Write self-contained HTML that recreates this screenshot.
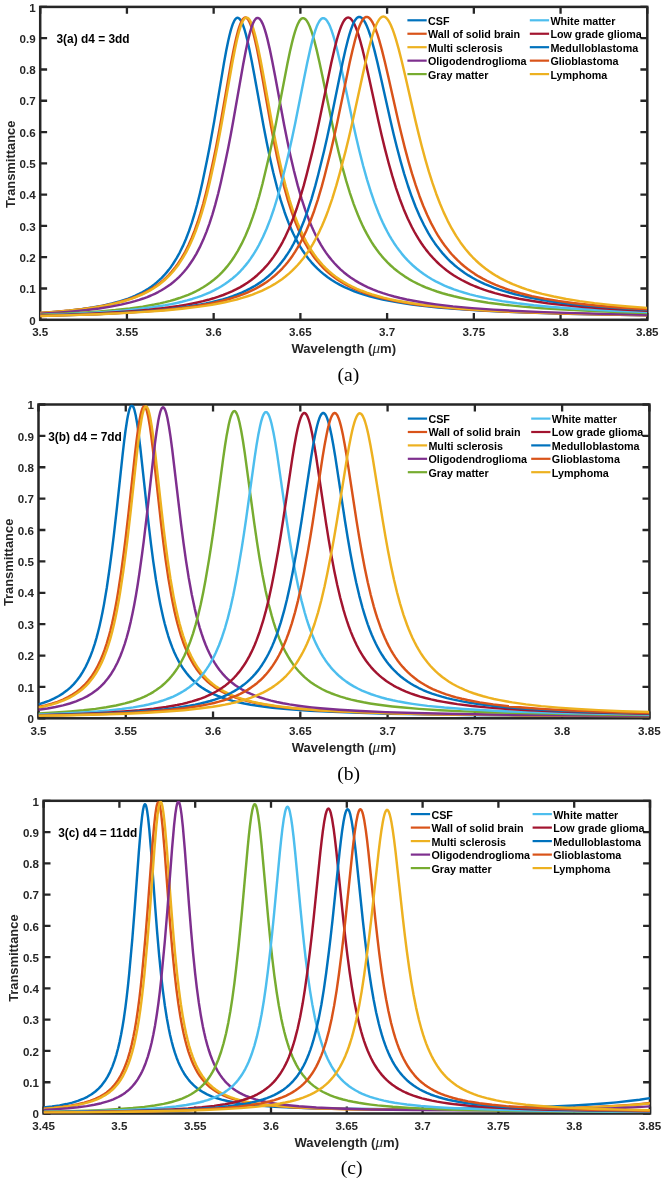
<!DOCTYPE html>
<html><head><meta charset="utf-8"><title>Transmittance spectra</title><style>
html,body{margin:0;padding:0;background:#fff;}
body{width:665px;height:1181px;overflow:hidden;}
svg{display:block;will-change:transform;}
text{font-family:"Liberation Sans",sans-serif;}
.tk{font-size:11.6px;font-weight:bold;fill:#262626;}
.al{font-size:12.9px;font-weight:bold;fill:#262626;}
.mu{font-family:"Liberation Serif",serif;font-style:italic;font-weight:normal;font-size:15px;}
.an{font-size:11.9px;font-weight:bold;fill:#000;}
.lg{font-size:10.75px;font-weight:bold;fill:#000;}
.sl{font-family:"Liberation Serif",serif;font-size:19.6px;fill:#000;}
</style></head>
<body>
<svg width="665" height="1181" viewBox="0 0 665 1181">
<defs>
<clipPath id="c0"><rect x="40.2" y="6.9" width="607.1" height="312.9"/></clipPath>
<clipPath id="c1"><rect x="38.5" y="404.5" width="610.9" height="313.8"/></clipPath>
<clipPath id="c2"><rect x="43.6" y="800.8" width="606.4" height="312.7"/></clipPath>
</defs>
<rect width="665" height="1181" fill="#fff"/>
<rect x="40.2" y="6.9" width="607.1" height="312.9" fill="none" stroke="#262626" stroke-width="2.5"/>
<text x="40.20" y="336.10" text-anchor="middle" class="tk">3.5</text>
<text x="126.93" y="336.10" text-anchor="middle" class="tk">3.55</text>
<text x="213.66" y="336.10" text-anchor="middle" class="tk">3.6</text>
<text x="300.39" y="336.10" text-anchor="middle" class="tk">3.65</text>
<text x="387.11" y="336.10" text-anchor="middle" class="tk">3.7</text>
<text x="473.84" y="336.10" text-anchor="middle" class="tk">3.75</text>
<text x="560.57" y="336.10" text-anchor="middle" class="tk">3.8</text>
<text x="647.30" y="336.10" text-anchor="middle" class="tk">3.85</text>
<text x="35.60" y="324.50" text-anchor="end" class="tk">0</text>
<text x="35.60" y="293.21" text-anchor="end" class="tk">0.1</text>
<text x="35.60" y="261.92" text-anchor="end" class="tk">0.2</text>
<text x="35.60" y="230.63" text-anchor="end" class="tk">0.3</text>
<text x="35.60" y="199.34" text-anchor="end" class="tk">0.4</text>
<text x="35.60" y="168.05" text-anchor="end" class="tk">0.5</text>
<text x="35.60" y="136.76" text-anchor="end" class="tk">0.6</text>
<text x="35.60" y="105.47" text-anchor="end" class="tk">0.7</text>
<text x="35.60" y="74.18" text-anchor="end" class="tk">0.8</text>
<text x="35.60" y="42.89" text-anchor="end" class="tk">0.9</text>
<text x="35.60" y="11.60" text-anchor="end" class="tk">1</text>
<path d="M40.20 319.80V312.90M40.20 6.90V13.80M126.93 319.80V312.90M126.93 6.90V13.80M213.66 319.80V312.90M213.66 6.90V13.80M300.39 319.80V312.90M300.39 6.90V13.80M387.11 319.80V312.90M387.11 6.90V13.80M473.84 319.80V312.90M473.84 6.90V13.80M560.57 319.80V312.90M560.57 6.90V13.80M647.30 319.80V312.90M647.30 6.90V13.80M40.20 319.80H47.10M647.30 319.80H640.40M40.20 288.51H47.10M647.30 288.51H640.40M40.20 257.22H47.10M647.30 257.22H640.40M40.20 225.93H47.10M647.30 225.93H640.40M40.20 194.64H47.10M647.30 194.64H640.40M40.20 163.35H47.10M647.30 163.35H640.40M40.20 132.06H47.10M647.30 132.06H640.40M40.20 100.77H47.10M647.30 100.77H640.40M40.20 69.48H47.10M647.30 69.48H640.40M40.20 38.19H47.10M647.30 38.19H640.40M40.20 6.90H47.10M647.30 6.90H640.40" stroke="#262626" stroke-width="2.3" fill="none"/>
<g clip-path="url(#c0)" fill="none" stroke-width="2.45" stroke-linejoin="round">
<path stroke="#0072BD" d="M40.20 313.05l15 -1.13l13.75 -1.31l12.25 -1.46l11.25 -1.66l10.25 -1.88l9.25 -2.09l8.5 -2.35l7.75 -2.6l3.75 -1.46l3.5 -1.5l3.5 -1.65l3.25 -1.68l3 -1.7l3 -1.86l3 -2.04l2.75 -2.04l2.75 -2.23l2.5 -2.21l2.5 -2.4l2.5 -2.61l2.25 -2.55l2.25 -2.76l2.25 -2.99l2 -2.87l3.5 -5.57l3.25 -5.88l3.25 -6.66l3 -6.94l3 -7.81l2.75 -8.02l2.75 -8.93l2.75 -9.93l2.75 -11.01l2.5 -11l4.5 -21.65l2.5 -12.76l4.75 -26.49l9.75 -58.25l2.25 -12.29l2 -9.84l1.25 -5.47l1.25 -4.86l1.25 -4.17l1 -2.79l1.25 -2.76l1 -1.6l.75 -.83l.5 -.38l.5 -.23l.5 -.09l.5 .05l.5 .17l.5 .3l.75 .68l1.25 1.74l1.25 2.47l1.25 3.17l1.25 3.82l1.25 4.42l1.25 4.95l2.25 10.08l2.25 11.24l2.5 13.4l9.25 51.25l3.25 16.78l3 14.44l3.5 15.43l3.75 14.83l3.75 13.13l3.75 11.56l2 5.58l2.25 5.82l2.25 5.38l2.25 4.97l2.25 4.59l2.5 4.7l2.5 4.31l2.5 3.96l2.75 4l2.75 3.65l3 3.64l3 3.31l3 3.03l3.25 2.99l3.5 2.93l3.5 2.66l4 2.74l4 2.47l4.25 2.37l4.5 2.26l4.75 2.14l5 2.02l5 1.81l5.5 1.78l5.75 1.66l6 1.55l6.25 1.44l6.75 1.38l7 1.27l7.5 1.21l8 1.14l8.25 1.04l18 1.89l20 1.63l22.5 1.42l25.5 1.24l28.75 1.07l32.75 .93l37.25 .8l42.25 .68"/>
<path stroke="#D95319" d="M40.20 312.94l15.75 -1.16l14 -1.3l12.75 -1.48l11.5 -1.65l10.5 -1.86l9.75 -2.13l8.75 -2.34l8 -2.6l3.75 -1.4l3.75 -1.54l3.5 -1.58l3.5 -1.74l3.25 -1.77l3 -1.79l3 -1.95l3 -2.13l2.75 -2.13l2.75 -2.32l2.75 -2.54l2.5 -2.51l2.5 -2.73l2.25 -2.66l2.25 -2.87l2.25 -3.11l3.75 -5.76l3.5 -6.13l3.25 -6.45l3.25 -7.28l3 -7.55l3 -8.45l2.75 -8.63l2.75 -9.55l2.75 -10.54l2.75 -11.58l4.5 -20.7l2.75 -13.4l2.5 -13l2.5 -13.68l10 -57.17l2.5 -13.09l2 -9.44l1.25 -5.29l1.25 -4.74l1.25 -4.12l1.25 -3.44l1.25 -2.71l1.25 -1.94l.75 -.78l.5 -.36l.5 -.23l.5 -.09l.5 .04l.5 .17l.5 .29l.75 .68l1 1.35l1.25 2.37l1.25 3.09l1.25 3.77l1.25 4.4l1.25 4.96l2.25 10.14l2.25 11.37l2.5 13.59l9.25 52.04l3.25 17.01l3 14.61l3.5 15.59l3.5 14.01l3.75 13.32l3.75 11.7l2 5.63l2.25 5.88l2 4.84l2.25 5.05l2.25 4.66l2.5 4.76l2.5 4.37l2.5 4.01l2.5 3.68l2.75 3.72l2.75 3.4l3 3.39l3 3.09l3.25 3.05l3.25 2.78l3.5 2.72l3.75 2.64l4 2.54l4.25 2.43l4.5 2.31l4.75 2.18l4.75 1.96l5 1.85l5.25 1.74l5.5 1.63l6 1.59l6.25 1.47l6.5 1.36l7 1.3l7.25 1.2l7.75 1.14l8.25 1.07l17.5 1.88l19.75 1.65l22.25 1.44l25 1.25l28.25 1.08l32 .93l36.25 .8l41.5 .69"/>
<path stroke="#EDB120" d="M40.20 313.02l15.75 -1.14l14.25 -1.3l12.75 -1.45l11.75 -1.66l10.5 -1.84l9.75 -2.1l8.75 -2.3l4.25 -1.3l4 -1.34l3.75 -1.39l3.75 -1.53l3.5 -1.56l3.5 -1.72l3.25 -1.75l3.25 -1.92l3 -1.94l3 -2.12l2.75 -2.12l2.75 -2.31l2.75 -2.52l2.5 -2.5l2.5 -2.71l2.25 -2.64l2.25 -2.85l2.25 -3.09l3.75 -5.72l3.5 -6.09l3.25 -6.4l3.25 -7.22l3 -7.5l3 -8.39l3 -9.39l2.75 -9.56l2.75 -10.56l2.75 -11.6l4.5 -20.72l2.75 -13.42l2.5 -13.01l2.5 -13.69l10 -57.16l2.5 -13.07l2 -9.41l1.25 -5.27l1.25 -4.71l1.25 -4.09l1.25 -3.41l1.25 -2.68l1.25 -1.91l.75 -.76l.5 -.34l.5 -.21l.5 -.08l.5 .05l.5 .18l.5 .3l.75 .68l1 1.34l1.25 2.34l1.25 3.05l1.25 3.71l1.25 4.33l1.25 4.88l2.25 9.97l2.5 12.48l2.5 13.46l9.25 51.42l3.25 16.82l3 14.46l3.5 15.45l3.5 13.9l3.75 13.24l3.75 11.65l2 5.62l2.25 5.87l2 4.84l2.25 5.05l2.25 4.67l2.5 4.77l2.5 4.38l2.5 4.02l2.75 4.05l2.75 3.71l2.75 3.39l3 3.38l3 3.09l3.25 3.05l3.25 2.78l3.5 2.72l3.75 2.64l4 2.55l4.25 2.44l4.5 2.32l4.75 2.19l4.75 1.97l5 1.86l5.25 1.75l5.5 1.64l6 1.6l6.25 1.49l6.5 1.38l7 1.32l7.25 1.21l7.75 1.15l8 1.05l17.5 1.91l19.5 1.66l22 1.46l25 1.27l28 1.09l31.75 .95l36 .82l41.25 .71"/>
<path stroke="#7E2F8E" d="M40.20 313.68l17 -1.06l15.5 -1.23l14 -1.4l12.5 -1.56l11.5 -1.79l10.25 -1.97l9.5 -2.25l4.5 -1.24l4.25 -1.3l4 -1.35l4 -1.49l3.75 -1.54l3.75 -1.7l3.5 -1.75l3.25 -1.78l3.25 -1.96l3 -1.98l3 -2.16l2.75 -2.17l2.75 -2.36l2.75 -2.58l2.5 -2.55l2.5 -2.77l2.5 -3.02l2.25 -2.95l3.75 -5.46l3.75 -6.24l3.5 -6.65l3.5 -7.57l3.25 -7.98l3 -8.28l3 -9.26l2.75 -9.44l3 -11.42l2.75 -11.55l4.5 -20.66l2.75 -13.37l2.5 -12.96l2.5 -13.64l10 -57.05l2.5 -13.08l2 -9.44l1.5 -6.29l1.25 -4.63l1.25 -4l1.25 -3.32l1.25 -2.58l1.25 -1.81l.75 -.7l.5 -.3l.5 -.17l.5 -.04l1 .28l.5 .32l.75 .69l1.25 1.73l1.25 2.42l1.25 3.08l1.25 3.7l1.25 4.26l1.25 4.78l2.25 9.71l2.5 12.1l2.75 14.36l9.25 49.87l3.25 16.36l3 14.11l3.5 15.14l3.75 14.6l3.75 12.98l3.75 11.48l2 5.55l2.25 5.81l2.25 5.38l2.25 4.98l2.25 4.61l2.25 4.28l2.5 4.39l2.5 4.04l2.5 3.72l2.75 3.76l2.75 3.45l3 3.45l3 3.15l3 2.89l3.25 2.86l3.5 2.81l3.75 2.73l4 2.63l4.25 2.52l4.25 2.27l4.5 2.17l4.75 2.06l5 1.95l5.25 1.84l5.5 1.73l5.75 1.62l6 1.51l6.5 1.46l6.75 1.35l7 1.25l7.5 1.19l8 1.12l17 2l19 1.75l21.25 1.52l23.75 1.32l26.75 1.15l30.25 1l34.25 .87l39 .75"/>
<path stroke="#77AC30" d="M40.20 314.78l22 -.94l19.75 -1.09l17.75 -1.26l15.75 -1.42l14.25 -1.62l13 -1.85l11.75 -2.09l5.5 -1.15l5.25 -1.22l5 -1.3l4.75 -1.37l4.5 -1.43l4.5 -1.59l4.25 -1.66l4 -1.73l3.75 -1.79l3.75 -1.97l3.5 -2.02l3.5 -2.22l3.25 -2.26l3.25 -2.48l3 -2.51l3 -2.74l2.75 -2.74l2.75 -2.98l2.5 -2.94l2.25 -2.86l2.25 -3.07l2 -2.93l4 -6.47l4 -7.41l3.75 -7.93l3.75 -9.02l3.5 -9.53l3.25 -9.92l3.25 -11.04l3.25 -12.25l5.25 -21.91l2.75 -12.13l2.75 -12.92l3 -14.89l11.25 -58.59l2.5 -11.93l2.25 -9.71l1.5 -5.77l1.25 -4.3l1.5 -4.48l1.25 -3.11l1.5 -2.92l1.25 -1.73l.75 -.72l.5 -.34l.75 -.31l.5 -.07l.5 .04l.75 .24l.75 .45l.75 .66l1.25 1.56l1.5 2.61l1.25 2.76l1.5 3.98l1.5 4.63l1.5 5.23l2.5 9.83l2.75 12.06l3 14.14l9.75 47.31l3.25 14.84l3.25 13.97l3.75 14.9l3.75 13.54l3.75 12.21l3.75 10.95l2 5.36l2.25 5.65l2 4.7l2.25 4.96l2.25 4.63l2.25 4.32l2.25 4.03l2.5 4.16l2.5 3.86l2.5 3.59l2.75 3.65l2.75 3.37l2.75 3.12l3 3.14l3 2.9l3 2.68l3.5 2.87l3.75 2.81l4 2.73l4 2.48l4.25 2.4l4.25 2.18l4.5 2.1l4.75 2.01l5 1.92l5.25 1.82l5.5 1.72l5.5 1.56l6 1.53l6.25 1.44l6.5 1.35l7 1.3l7 1.17l7.5 1.13l16.25 2.07l18 1.83l19.75 1.6l22 1.42l24.75 1.26l27.5 1.1l30.75 .96"/>
<path stroke="#4DBEEE" d="M40.20 315.14l24.25 -.9l21.5 -1.03l19.5 -1.21l17.25 -1.36l15.75 -1.58l14 -1.78l12.75 -2.03l6 -1.13l5.5 -1.15l5.25 -1.22l5.25 -1.36l5 -1.44l4.75 -1.52l4.5 -1.59l4.25 -1.66l4.25 -1.84l4 -1.91l3.75 -1.98l3.75 -2.18l3.5 -2.24l3.5 -2.46l3.25 -2.5l3 -2.53l3 -2.75l3 -3.01l2.5 -2.72l2.5 -2.94l2.5 -3.18l2.25 -3.08l2.25 -3.31l2 -3.15l2.25 -3.79l2 -3.61l4 -7.98l3.75 -8.51l3.75 -9.63l3.5 -10.12l3.5 -11.33l3.5 -12.62l5.5 -22.08l2.75 -11.65l3 -13.55l3 -14.33l9.25 -46.74l2.75 -13.49l2.75 -12.58l2.25 -9.25l1.5 -5.5l1.5 -4.87l1.5 -4.16l1.25 -2.88l1.5 -2.7l1.25 -1.58l.75 -.65l.5 -.31l.75 -.27l.5 -.05l.5 .05l.75 .24l.75 .44l.75 .64l1.25 1.51l1.5 2.52l1.5 3.26l1.5 3.94l1.5 4.56l1.5 5.13l2.5 9.61l3 12.88l3 13.84l9.75 46.25l3.25 14.54l3.25 13.71l3.75 14.67l3.75 13.38l3.75 12.1l3.75 10.88l4 10.37l2 4.74l2.25 5l2.25 4.67l2.25 4.37l2.25 4.08l2.25 3.82l2.25 3.57l2.5 3.7l2.5 3.44l2.75 3.51l2.75 3.25l2.75 3.02l2.75 2.8l3 2.83l3.5 3.04l3.5 2.78l3.75 2.73l3.75 2.49l4 2.43l4.25 2.35l4.25 2.14l4.5 2.07l4.75 1.99l4.75 1.81l5.25 1.81l5.25 1.64l5.5 1.56l6 1.54l6 1.39l6.5 1.36l6.75 1.28l7 1.19l15 2.18l16.5 1.94l18.25 1.72l20.25 1.53l22.25 1.34l25 1.2l27.75 1.05"/>
<path stroke="#A2142F" d="M40.20 315.50l27.25 -.86l24 -.99l21.5 -1.15l19 -1.31l17.25 -1.52l15.5 -1.73l14 -1.97l6.5 -1.09l6.25 -1.17l6 -1.26l5.5 -1.28l5.25 -1.36l5.25 -1.51l5 -1.6l4.75 -1.69l4.5 -1.78l4.25 -1.86l4 -1.93l4 -2.12l3.75 -2.19l3.75 -2.41l3.5 -2.48l3.25 -2.52l3.25 -2.75l3.25 -3.01l2.75 -2.78l2.75 -3.01l2.5 -2.95l2.5 -3.18l2.5 -3.43l2.25 -3.32l2.25 -3.56l2.25 -3.82l2.25 -4.1l2 -3.9l4 -8.58l4 -9.75l3.75 -10.32l3.75 -11.58l3.5 -12.04l3 -11.3l6 -23.96l3 -13.01l3.25 -14.91l12.25 -59.09l3 -13.22l2.5 -9.87l1.5 -5.26l1.5 -4.68l1.5 -4.04l1.5 -3.33l1.5 -2.57l1.25 -1.53l.75 -.64l.75 -.43l.5 -.17l.75 -.08l.5 .06l.75 .25l.75 .44l.75 .63l1.5 1.83l1.5 2.55l1.5 3.23l1.5 3.87l1.5 4.46l1.75 5.87l2.5 9.43l3 12.57l3 13.46l9.75 45l3.25 14.21l3.25 13.45l3.75 14.44l3.5 12.38l3.75 12.1l3.75 10.93l4 10.46l4 9.32l4.25 8.78l2.25 4.23l2.25 3.96l2.25 3.71l2.5 3.85l2.25 3.24l2.5 3.37l2.5 3.14l2.5 2.93l2.75 3.01l2.75 2.8l3.25 3.06l3.25 2.82l3.5 2.79l3.75 2.74l3.75 2.51l3.75 2.31l4 2.26l4.25 2.19l4.5 2.12l4.5 1.94l4.75 1.87l4.75 1.7l5.25 1.72l5.25 1.56l5.75 1.55l5.75 1.41l6 1.34l6.5 1.31l13.5 2.35l15 2.13l16.25 1.88l17.75 1.67l19.75 1.5l21.75 1.33l24.25 1.19"/>
<path stroke="#0072BD" d="M40.20 315.89l28.75 -.8l25.5 -.93l22.75 -1.09l20.25 -1.26l18.25 -1.46l16.25 -1.66l14.5 -1.88l6.75 -1.04l6.5 -1.13l6.25 -1.21l5.75 -1.25l5.75 -1.4l5.25 -1.42l5 -1.51l5 -1.68l4.5 -1.68l4.5 -1.86l4.25 -1.94l4 -2.02l4 -2.23l3.75 -2.31l3.5 -2.37l3.5 -2.6l3.25 -2.65l3.25 -2.91l2.75 -2.68l2.75 -2.9l2.75 -3.15l2.5 -3.1l2.5 -3.34l2.5 -3.61l2.25 -3.5l2.25 -3.76l2.25 -4.04l2 -3.84l2.25 -4.62l2 -4.4l4 -9.7l3.75 -10.29l3.75 -11.58l3.75 -12.96l3 -11.42l5.75 -23.25l3.25 -14.27l3.25 -15.14l9.5 -46.83l2.75 -13.16l2.75 -12.29l2.5 -10.04l1.5 -5.35l1.5 -4.75l1.5 -4.08l1.25 -2.84l1.5 -2.7l1.25 -1.62l.75 -.69l.75 -.47l.75 -.26l.5 -.05l.75 .09l.75 .27l.75 .45l.75 .63l1.5 1.79l1.5 2.47l1.5 3.12l1.75 4.4l1.5 4.37l1.75 5.72l2.75 10.13l3 12.27l3 13.1l10 44.86l3.25 13.83l3.25 13.12l3.75 14.13l3.5 12.16l3.75 11.92l3.75 10.81l4 10.38l4 9.29l4.25 8.78l4.25 7.79l2.25 3.76l2.25 3.53l2.25 3.32l2.5 3.45l2.5 3.23l2.5 3.02l2.5 2.82l2.75 2.9l3.25 3.18l3.25 2.93l3.25 2.7l3.5 2.69l3.75 2.65l3.75 2.43l4 2.38l4 2.19l4.25 2.13l4.25 1.95l4.5 1.9l4.75 1.83l5 1.76l5 1.61l5.5 1.62l5.5 1.47l5.75 1.4l6 1.33l13 2.5l14 2.22l15.25 1.98l16.75 1.78l18.5 1.6l20.25 1.42l22.5 1.28"/>
<path stroke="#D95319" d="M40.20 315.94l29.5 -.79l26.25 -.93l23.25 -1.08l20.75 -1.25l18.5 -1.43l16.75 -1.66l15 -1.89l7 -1.05l6.5 -1.1l6.25 -1.18l6 -1.27l5.75 -1.36l5.5 -1.45l5.25 -1.54l5 -1.63l4.75 -1.72l4.5 -1.81l4.25 -1.89l4.25 -2.09l4 -2.18l3.75 -2.25l3.75 -2.48l3.5 -2.54l3.5 -2.79l3.25 -2.85l2.75 -2.62l2.75 -2.83l2.75 -3.07l2.5 -3.02l2.5 -3.25l2.5 -3.51l2.5 -3.79l2.25 -3.67l2.25 -3.94l2.25 -4.22l2.25 -4.53l2 -4.31l4 -9.49l4 -10.76l3.75 -11.36l3.75 -12.7l3 -11.18l6 -23.83l3.25 -14.01l3.25 -14.86l12.5 -60.2l2.75 -12.14l2.5 -9.96l1.5 -5.34l1.5 -4.77l1.5 -4.13l1.5 -3.44l1.5 -2.69l1.25 -1.63l.75 -.71l.75 -.5l.75 -.29l.5 -.08l.75 .05l.75 .23l.75 .41l.75 .58l1.5 1.69l1.5 2.36l1.5 3l1.75 4.25l1.75 4.99l1.75 5.65l2.75 10l3 12.11l3.25 14.04l10 44.39l3.25 13.69l3.25 12.99l3.75 14l3.5 12.06l3.75 11.83l3.75 10.75l3.75 9.72l4 9.32l4 8.34l4.25 7.9l2.25 3.82l2.25 3.58l2.25 3.37l2.5 3.51l4.75 6.05l2.5 2.89l2.75 2.97l3 3.01l3.25 3.02l3.25 2.79l3.5 2.77l3.5 2.55l3.75 2.52l3.75 2.32l4 2.27l4.25 2.22l4.25 2.03l4.5 1.97l4.5 1.81l4.75 1.75l5 1.69l5.25 1.62l5.25 1.48l5.75 1.48l5.75 1.35l12.5 2.55l13.5 2.27l14.75 2.05l16 1.83l17.75 1.66l19.5 1.48l21.25 1.31"/>
<path stroke="#EDB120" d="M40.20 315.92l31 -.8l27.5 -.93l24.5 -1.08l21.75 -1.25l19.5 -1.44l17.5 -1.65l15.75 -1.89l7.25 -1.04l7 -1.12l6.75 -1.22l6.25 -1.26l6 -1.35l5.75 -1.44l5.5 -1.54l5.25 -1.64l5 -1.73l4.75 -1.82l4.5 -1.91l4.5 -2.12l4.25 -2.21l4 -2.3l3.75 -2.37l3.75 -2.6l3.5 -2.66l3.5 -2.92l3 -2.73l3 -2.96l2.75 -2.93l2.75 -3.17l2.75 -3.43l2.5 -3.36l2.5 -3.62l2.5 -3.89l2.25 -3.76l2.25 -4.02l2.25 -4.3l2.25 -4.6l2.25 -4.92l2 -4.66l2.25 -5.59l2 -5.29l4 -11.56l4 -12.94l3.25 -11.58l6.25 -23.66l3.25 -13.35l3.5 -15.22l10.25 -47.22l3 -13.41l3 -12.5l2.5 -9.37l1.75 -5.82l1.5 -4.42l1.5 -3.84l1.5 -3.21l1.5 -2.53l1.5 -1.81l.75 -.63l.75 -.44l.75 -.25l.5 -.06l.75 .06l.75 .24l.75 .41l.75 .58l1.5 1.66l1.5 2.31l1.5 2.93l1.75 4.15l1.75 4.88l1.75 5.52l2.75 9.78l3.25 12.9l3.25 13.83l10 43.78l3.25 13.53l3.25 12.86l3.75 13.89l3.5 11.99l3.5 11.04l3.75 10.8l3.75 9.79l3.75 8.85l4 8.49l4 7.6l4.25 7.21l4.5 6.78l4.75 6.32l4.75 5.58l3 3.19l3 2.96l3 2.75l3.25 2.76l3.5 2.74l3.5 2.53l3.5 2.34l3.75 2.32l3.75 2.14l4 2.11l4.25 2.06l4.25 1.89l4.5 1.84l4.75 1.78l4.75 1.64l5 1.58l5.25 1.52l5.25 1.39l11.5 2.67l12.5 2.42l13.5 2.17l14.75 1.97l16 1.76l17.5 1.59l19.25 1.43"/>
</g>
<text x="343.75" y="353.10" text-anchor="middle" textLength="104.6" lengthAdjust="spacingAndGlyphs" class="al">Wavelength (<tspan class="mu">μ</tspan>m)</text>
<text transform="translate(14.80,164.35) rotate(-90)" text-anchor="middle" class="al">Transmittance</text>
<text x="56.50" y="43.30" class="an">3(a) d4 = 3dd</text>
<path d="M407.4 20.30H426.7" stroke="#0072BD" stroke-width="2.2"/>
<text x="428.0" y="24.70" class="lg">CSF</text>
<path d="M407.4 33.75H426.7" stroke="#D95319" stroke-width="2.2"/>
<text x="428.0" y="38.15" class="lg">Wall of solid brain</text>
<path d="M407.4 47.20H426.7" stroke="#EDB120" stroke-width="2.2"/>
<text x="428.0" y="51.60" class="lg">Multi sclerosis</text>
<path d="M407.4 60.65H426.7" stroke="#7E2F8E" stroke-width="2.2"/>
<text x="428.0" y="65.05" class="lg">Oligodendroglioma</text>
<path d="M407.4 74.10H426.7" stroke="#77AC30" stroke-width="2.2"/>
<text x="428.0" y="78.50" class="lg">Gray matter</text>
<path d="M529.8 20.30H549.1" stroke="#4DBEEE" stroke-width="2.2"/>
<text x="550.4" y="24.70" class="lg">White matter</text>
<path d="M529.8 33.75H549.1" stroke="#A2142F" stroke-width="2.2"/>
<text x="550.4" y="38.15" class="lg">Low grade glioma</text>
<path d="M529.8 47.20H549.1" stroke="#0072BD" stroke-width="2.2"/>
<text x="550.4" y="51.60" class="lg">Medulloblastoma</text>
<path d="M529.8 60.65H549.1" stroke="#D95319" stroke-width="2.2"/>
<text x="550.4" y="65.05" class="lg">Glioblastoma</text>
<path d="M529.8 74.10H549.1" stroke="#EDB120" stroke-width="2.2"/>
<text x="550.4" y="78.50" class="lg">Lymphoma</text>
<text x="337.50" y="380.60" class="sl">(a)</text>
<rect x="38.5" y="404.5" width="610.9" height="313.8" fill="none" stroke="#262626" stroke-width="2.5"/>
<text x="38.50" y="734.60" text-anchor="middle" class="tk">3.5</text>
<text x="125.77" y="734.60" text-anchor="middle" class="tk">3.55</text>
<text x="213.04" y="734.60" text-anchor="middle" class="tk">3.6</text>
<text x="300.31" y="734.60" text-anchor="middle" class="tk">3.65</text>
<text x="387.59" y="734.60" text-anchor="middle" class="tk">3.7</text>
<text x="474.86" y="734.60" text-anchor="middle" class="tk">3.75</text>
<text x="562.13" y="734.60" text-anchor="middle" class="tk">3.8</text>
<text x="649.40" y="734.60" text-anchor="middle" class="tk">3.85</text>
<text x="33.90" y="723.00" text-anchor="end" class="tk">0</text>
<text x="33.90" y="691.62" text-anchor="end" class="tk">0.1</text>
<text x="33.90" y="660.24" text-anchor="end" class="tk">0.2</text>
<text x="33.90" y="628.86" text-anchor="end" class="tk">0.3</text>
<text x="33.90" y="597.48" text-anchor="end" class="tk">0.4</text>
<text x="33.90" y="566.10" text-anchor="end" class="tk">0.5</text>
<text x="33.90" y="534.72" text-anchor="end" class="tk">0.6</text>
<text x="33.90" y="503.34" text-anchor="end" class="tk">0.7</text>
<text x="33.90" y="471.96" text-anchor="end" class="tk">0.8</text>
<text x="33.90" y="440.58" text-anchor="end" class="tk">0.9</text>
<text x="33.90" y="409.20" text-anchor="end" class="tk">1</text>
<path d="M38.50 718.30V711.40M38.50 404.50V411.40M125.77 718.30V711.40M125.77 404.50V411.40M213.04 718.30V711.40M213.04 404.50V411.40M300.31 718.30V711.40M300.31 404.50V411.40M387.59 718.30V711.40M387.59 404.50V411.40M474.86 718.30V711.40M474.86 404.50V411.40M562.13 718.30V711.40M562.13 404.50V411.40M649.40 718.30V711.40M649.40 404.50V411.40M38.50 718.30H45.40M649.40 718.30H642.50M38.50 686.92H45.40M649.40 686.92H642.50M38.50 655.54H45.40M649.40 655.54H642.50M38.50 624.16H45.40M649.40 624.16H642.50M38.50 592.78H45.40M649.40 592.78H642.50M38.50 561.40H45.40M649.40 561.40H642.50M38.50 530.02H45.40M649.40 530.02H642.50M38.50 498.64H45.40M649.40 498.64H642.50M38.50 467.26H45.40M649.40 467.26H642.50M38.50 435.88H45.40M649.40 435.88H642.50M38.50 404.50H45.40M649.40 404.50H642.50" stroke="#262626" stroke-width="2.3" fill="none"/>
<g clip-path="url(#c1)" fill="none" stroke-width="2.45" stroke-linejoin="round">
<path stroke="#0072BD" d="M38.50 704.34l5.75 -1.82l5.25 -1.99l4.75 -2.13l4.5 -2.39l4.25 -2.67l3.75 -2.76l3.5 -3l3.5 -3.5l3.25 -3.79l3 -4.06l2.75 -4.29l2.75 -4.94l2.5 -5.16l2.25 -5.28l2.25 -5.98l2.25 -6.79l1.75 -5.93l1.5 -5.58l1.5 -6.09l1.5 -6.65l1.5 -7.26l1.5 -7.92l2.75 -16.38l2.75 -19l2.5 -18.93l1.75 -14.21l3 -26.47l6 -56.04l1.5 -12.86l1.25 -9.71l1.75 -11.49l.75 -4l.75 -3.37l.75 -2.7l.75 -1.99l.75 -1.24l.5 -.41l.25 -.08l.5 .1l.75 .79l.75 1.54l.75 2.27l1.25 5.32l1.5 8.65l1.5 10.71l1.5 12.28l8.25 75.95l2.5 21.04l2.25 17.18l2.75 18.64l2.75 16.13l1.5 7.82l1.5 7.19l1.5 6.6l1.5 6.06l1.75 6.44l1.75 5.83l2 6l2 5.37l2 4.82l2.25 4.85l2.25 4.33l2.25 3.87l2.5 3.84l2.75 3.74l2.75 3.31l3 3.2l3 2.83l3.25 2.71l3.5 2.57l3.75 2.41l4 2.25l4 1.97l4.25 1.84l4.75 1.79l5 1.64l5.25 1.5l5.5 1.36l6 1.29l6.5 1.21l6.75 1.08l7.25 1l7.75 .92l8.25 .84l9 .79l20 1.39l23 1.16l26.5 .97l31 .81l36.25 .68l42.5 .57l50.25 .47l59.5 .39l70.5 .33"/>
<path stroke="#D95319" d="M38.50 707.04l7 -1.6l6.25 -1.73l5.75 -1.92l5.5 -2.21l5 -2.41l4.5 -2.58l4.25 -2.88l4 -3.21l3.75 -3.55l3.5 -3.9l3.25 -4.24l3 -4.55l2.75 -4.82l2.75 -5.56l2.5 -5.81l2.5 -6.67l2 -6.05l1.75 -5.88l1.75 -6.51l1.75 -7.19l1.75 -7.96l1.5 -7.48l1.5 -8.15l1.5 -8.86l3 -19.98l2.5 -18.48l1.75 -13.79l3 -25.73l6.5 -59.57l1.5 -12.62l1.25 -9.54l1.75 -11.32l1 -5.15l.75 -3.14l.75 -2.48l.75 -1.78l.75 -1.06l.5 -.3l.25 -.02l.5 .2l.75 .91l.75 1.64l.75 2.34l1.25 5.37l1.5 8.62l1.5 10.59l1.5 12.09l8.25 74.68l2.5 20.75l2.25 16.99l2.75 18.48l3 17.39l1.5 7.69l1.5 7.07l1.5 6.5l1.5 5.97l1.75 6.36l1.75 5.77l2 5.94l2 5.33l2 4.79l2.25 4.83l2.25 4.31l2.25 3.86l2.5 3.83l2.5 3.42l2.75 3.35l3 3.24l3 2.86l3.25 2.75l3.5 2.6l3.75 2.45l4 2.29l4 2l4.25 1.87l4.5 1.73l4.75 1.6l5.25 1.54l5.5 1.4l6 1.33l6.25 1.2l6.75 1.12l7.25 1.04l7.5 .92l8.25 .88l8.75 .8l19.5 1.41l22.25 1.18l26 1l30 .83l35.25 .7l41.25 .59l48.5 .49l57.5 .41l68 .34"/>
<path stroke="#EDB120" d="M38.50 707.60l7.25 -1.55l6.5 -1.69l6 -1.89l5.5 -2.09l5 -2.28l4.75 -2.59l4.5 -2.93l4 -3.09l3.75 -3.41l3.5 -3.74l3.25 -4.07l3.25 -4.76l3 -5.14l2.75 -5.47l2.5 -5.73l2.5 -6.57l2 -5.96l1.75 -5.81l1.75 -6.43l1.75 -7.11l1.75 -7.87l1.5 -7.41l1.75 -9.49l1.5 -8.91l3 -20.14l2.5 -18.65l1.75 -13.93l3 -26.01l6.25 -57.88l1.5 -12.82l1.5 -11.54l1.75 -11.19l.75 -3.87l.75 -3.24l.75 -2.57l.75 -1.86l.75 -1.13l.5 -.34l.25 -.04l.5 .16l.75 .85l.75 1.56l.75 2.25l.75 2.92l.75 3.54l1.5 8.76l1.75 12.58l1.75 14.43l6 54.42l2.5 21.7l2 16.14l2 14.88l2.75 18.32l3 17.26l1.5 7.64l1.5 7.04l1.5 6.47l1.5 5.95l1.75 6.34l1.75 5.76l2 5.94l2 5.33l2 4.8l2.25 4.84l2.25 4.32l2.25 3.87l2.5 3.85l2.5 3.43l2.75 3.37l3 3.25l3 2.88l3.25 2.76l3.5 2.62l3.75 2.47l4 2.3l4 2.02l4.25 1.88l4.5 1.75l4.75 1.62l5.25 1.56l5.5 1.42l6 1.34l6.25 1.21l6.75 1.13l7.25 1.05l7.5 .93l8 .86l8.75 .81l19.5 1.43l22.25 1.2l25.75 1.01l30 .85l35 .71l41 .59l48.25 .5l57 .41l67.75 .34"/>
<path stroke="#7E2F8E" d="M38.50 709.83l9 -1.33l8 -1.47l7.5 -1.69l6.75 -1.87l6.25 -2.12l5.75 -2.37l5.25 -2.62l4.75 -2.84l4.5 -3.22l2.25 -1.85l2 -1.79l2 -1.96l2 -2.14l3.5 -4.24l3.25 -4.61l3.25 -5.4l3 -5.84l2.75 -6.23l2.25 -5.82l2.25 -6.59l2 -6.59l2 -7.37l2 -8.26l1.75 -8.03l1.75 -8.86l1.75 -9.75l1.75 -10.71l1.75 -11.71l2.5 -18.02l1.75 -13.39l3.25 -27.18l6.5 -58.31l1.5 -12.43l1.5 -11.23l1.75 -10.98l1 -5.01l.75 -3.06l.75 -2.43l.75 -1.76l.75 -1.06l.5 -.32l.25 -.04l.25 .04l.5 .29l.75 .96l.75 1.59l.75 2.2l.75 2.79l.75 3.34l1.5 8.18l1.5 9.88l1.75 13.16l8.75 73.82l2.5 19.38l2.5 17.67l2.75 17.34l3 16.49l3 14.16l1.5 6.29l1.75 6.74l1.75 6.15l1.75 5.61l2 5.82l2 5.25l2 4.75l2.25 4.81l2.25 4.32l2.5 4.29l2.5 3.84l2.5 3.44l2.75 3.39l3 3.29l3.25 3.15l3.25 2.79l3.5 2.66l3.5 2.35l4 2.37l4 2.09l4.25 1.95l4.5 1.82l4.75 1.69l5.25 1.63l5.5 1.49l5.75 1.36l6.25 1.28l6.5 1.16l7 1.09l7.25 .98l8 .93l8.5 .86l19 1.53l21.5 1.28l24.75 1.08l28.75 .92l33.5 .77l39 .65l45.5 .54l53.75 .46l63.25 .38"/>
<path stroke="#77AC30" d="M38.50 713.51l16.75 -.92l15 -1.07l13.25 -1.21l12 -1.4l10.75 -1.59l9.75 -1.82l9 -2.11l4 -1.11l4 -1.23l3.75 -1.29l3.75 -1.44l3.5 -1.5l3.25 -1.54l3.25 -1.71l3 -1.75l2.75 -1.77l2.75 -1.95l2.75 -2.15l2.5 -2.15l2.5 -2.36l2.25 -2.33l2.25 -2.55l2.25 -2.79l2 -2.71l2 -2.95l3.5 -5.82l3.25 -6.28l3 -6.68l3 -7.68l2.75 -8.07l2.75 -9.2l2.5 -9.48l2.5 -10.66l2.5 -11.97l2.25 -11.98l3.5 -20.7l2 -12.55l2 -13.4l2.25 -15.98l8 -59.85l1.75 -12.04l1.75 -10.86l2 -10.42l1 -4.23l1 -3.49l1 -2.7l.75 -1.47l.5 -.71l.5 -.49l.75 -.32l.75 .18l.5 .4l.5 .62l.75 1.34l1 2.53l.75 2.43l1 3.9l1.75 8.49l1.75 10.25l1.75 11.6l9.5 70.38l2.75 18.91l2.5 15.83l3 17.14l3 15.14l3 13.25l3.25 12.44l1.75 5.96l2 6.24l1.75 5l2 5.24l2 4.78l2.25 4.89l2.25 4.43l2.25 4.02l2.5 4.04l2.5 3.65l2.5 3.3l2.75 3.28l3 3.22l3 2.89l3.25 2.8l3.25 2.51l3.75 2.59l3.75 2.3l4 2.19l4.25 2.06l4.5 1.93l4.5 1.71l5 1.69l5.25 1.56l5.5 1.44l6 1.38l6.25 1.26l6.5 1.15l7 1.09l7.5 1.02l7.75 .92l8.5 .88l18.25 1.54l21 1.34l24 1.14l27.25 .97l31.25 .83l36.25 .71l42 .6l48.5 .5"/>
<path stroke="#4DBEEE" d="M38.50 714.49l20.75 -.79l18.5 -.93l16.5 -1.09l14.5 -1.25l13 -1.44l11.5 -1.63l10.5 -1.89l4.75 -1.02l4.75 -1.15l4.5 -1.22l4.25 -1.29l4 -1.36l3.75 -1.43l3.5 -1.48l3.5 -1.64l3.25 -1.7l3.25 -1.88l3 -1.93l3 -2.13l2.75 -2.16l2.75 -2.39l2.5 -2.39l2.5 -2.63l2.5 -2.9l2.25 -2.86l2 -2.78l2 -3.02l2 -3.28l1.75 -3.11l1.75 -3.35l1.75 -3.62l3.25 -7.53l3 -8.01l3 -9.19l2.75 -9.61l2.75 -10.9l2.75 -12.34l2.5 -12.57l2.25 -12.47l3.75 -22.22l2.25 -14.52l2.25 -15.4l8.5 -61.08l1.75 -11.47l1.75 -10.33l2 -9.92l1 -4.05l1 -3.36l1 -2.62l1 -1.84l.5 -.62l.5 -.41l.75 -.23l.75 .22l.5 .39l.5 .59l.75 1.24l1 2.31l1 3.02l1 3.69l2 9.19l1.75 9.69l2 12.5l9.75 67.81l2.75 17.84l2.5 15.04l3 16.42l3 14.64l3.25 13.95l3.25 12.14l1.75 5.86l2 6.17l1.75 4.97l2 5.23l2 4.8l2 4.4l2.25 4.53l2.25 4.13l2.25 3.77l2.5 3.81l2.5 3.46l2.75 3.45l2.75 3.12l3 3.07l3 2.77l3.25 2.71l3.5 2.62l3.75 2.51l3.75 2.25l4 2.14l4.25 2.03l4.5 1.92l4.75 1.8l5 1.68l5.25 1.56l5.5 1.45l5.75 1.34l6.25 1.29l6.5 1.18l7 1.12l7.25 1.02l7.75 .96l17 1.72l19 1.47l21.75 1.28l24.5 1.1l28 .94l32.25 .81l36.75 .69l42.5 .59"/>
<path stroke="#A2142F" d="M38.50 715.16l25.75 -.7l22.5 -.82l19.75 -.96l17.5 -1.12l15.5 -1.3l14 -1.52l12.5 -1.75l5.75 -.97l5.5 -1.05l5.25 -1.13l4.75 -1.15l4.75 -1.29l4.5 -1.37l4.25 -1.46l4 -1.53l3.75 -1.6l3.75 -1.79l3.5 -1.86l3.5 -2.07l3.25 -2.14l3 -2.19l3 -2.43l2.75 -2.46l2.75 -2.71l2.5 -2.71l2.25 -2.67l2.25 -2.91l2.25 -3.17l2 -3.07l2 -3.32l2 -3.61l2 -3.92l1.75 -3.71l1.75 -3.99l1.75 -4.31l3.25 -8.91l3.25 -10.26l3 -10.84l3 -12.32l2.75 -12.71l2.5 -12.81l4 -22.11l2.25 -13.47l2.5 -15.91l9.25 -62.39l2 -12.35l2 -11.03l1.25 -6.02l1 -4.24l1 -3.67l1 -3.05l1 -2.39l1 -1.7l.5 -.58l.5 -.4l.75 -.26l.75 .15l.5 .33l.5 .51l1 1.56l1 2.26l1 2.92l1 3.55l1 4.13l1.25 5.89l1.75 9.42l2 12.08l10 67.04l2.75 17.25l2.5 14.58l3 16l3 14.33l3 12.74l3.25 12.14l1.75 5.88l1.75 5.46l1.75 5.07l2 5.35l2 4.92l2 4.52l2 4.17l2.25 4.3l2.25 3.93l2.25 3.6l2.5 3.65l2.5 3.33l2.5 3.04l2.75 3.05l2.75 2.77l3 2.75l3.25 2.69l3.5 2.61l3.5 2.35l3.75 2.26l4 2.16l4 1.94l4.5 1.95l4.5 1.75l4.75 1.65l5 1.55l5.25 1.45l5.75 1.41l6 1.3l6.25 1.2l6.75 1.15l7 1.05l15 1.87l17 1.65l19 1.42l21.5 1.24l24.25 1.07l27.75 .93l31.5 .8l36 .69"/>
<path stroke="#0072BD" d="M38.50 715.46l28.25 -.65l24.5 -.77l21.75 -.91l19 -1.06l17 -1.25l15 -1.44l13.5 -1.68l12 -1.92l5.75 -1.11l5.25 -1.14l5 -1.23l4.75 -1.31l4.5 -1.4l4.25 -1.48l4 -1.55l4 -1.74l3.75 -1.82l3.5 -1.89l3.5 -2.11l3.25 -2.18l3 -2.23l3 -2.46l3 -2.73l2.75 -2.77l2.5 -2.77l2.25 -2.72l2.25 -2.97l2.25 -3.23l2.25 -3.53l2 -3.42l2 -3.71l2 -4.02l2 -4.37l1.75 -4.14l1.75 -4.45l1.75 -4.8l3.25 -9.92l3.25 -11.39l3 -11.98l3 -13.53l2.5 -12.54l4 -21.65l2.5 -14.67l2.5 -15.64l9.5 -62.93l2 -12.1l2 -10.83l1.25 -5.92l1 -4.18l1 -3.64l1 -3.04l1 -2.41l1 -1.75l1 -1.06l.5 -.27l.5 -.09l.5 .09l.5 .27l1 1.06l1 1.74l1 2.41l1 3.04l1 3.63l1 4.18l1.25 5.92l1.75 9.39l2 11.95l9.75 64.34l2.75 17.07l2.5 14.48l3 15.93l3 14.33l3 12.77l3.25 12.21l1.75 5.93l1.75 5.51l1.75 5.12l2 5.42l2 4.98l2 4.59l2 4.23l2 3.9l2 3.61l2.25 3.73l2.25 3.43l2.5 3.49l2.5 3.18l2.75 3.19l2.75 2.9l2.75 2.65l3.25 2.84l3.25 2.56l3.5 2.49l3.5 2.25l3.75 2.17l4 2.08l4.25 1.99l4.25 1.78l4.75 1.78l4.75 1.59l5 1.5l5.25 1.41l5.5 1.32l6 1.28l6.25 1.18l6.75 1.13l14.25 1.99l15.75 1.72l18 1.53l20 1.32l22.5 1.14l25.5 .99l29 .86l32.75 .74"/>
<path stroke="#D95319" d="M38.50 715.65l30 -.62l26 -.74l23 -.88l20 -1.02l17.75 -1.2l15.75 -1.4l14 -1.62l12.5 -1.87l5.75 -1.03l5.5 -1.12l5.25 -1.21l5 -1.3l4.75 -1.39l4.5 -1.48l4.25 -1.57l4 -1.66l3.75 -1.73l3.75 -1.93l3.5 -2.01l3.5 -2.25l3.25 -2.32l3 -2.38l3 -2.64l2.75 -2.67l2.5 -2.67l2.5 -2.92l2.5 -3.21l2.25 -3.16l2.25 -3.45l2 -3.34l2 -3.62l2 -3.92l2 -4.26l1.75 -4.03l1.75 -4.34l1.75 -4.67l1.75 -5.03l1.75 -5.42l3.25 -11.2l3 -11.78l3 -13.31l2.75 -13.64l4 -21.54l2.5 -14.57l2.5 -15.54l9.75 -64.3l2 -12.02l2 -10.73l1.25 -5.86l1 -4.13l1 -3.58l1 -2.99l1 -2.36l1 -1.7l.5 -.59l.5 -.42l.5 -.25l.5 -.07l.5 .11l.5 .28l1 1.08l1 1.76l1 2.42l1 3.04l1 3.63l1 4.17l1.25 5.89l1.75 9.34l2 11.89l9.75 64.01l2.75 17.01l2.5 14.44l3 15.9l3 14.31l3 12.77l3 11.33l1.75 6l1.75 5.58l3.5 10.01l2 5.1l2 4.7l2 4.33l2 4l2 3.69l2.25 3.82l2.25 3.51l2.5 3.57l2.5 3.26l2.5 2.98l2.5 2.73l2.75 2.75l3 2.73l3.25 2.68l3.5 2.6l3.5 2.35l3.75 2.27l3.75 2.04l4 1.96l4.25 1.88l4.5 1.78l4.75 1.68l5 1.58l5 1.41l5.5 1.39l5.75 1.29l6 1.2l6.25 1.12l13.5 2.02l15.25 1.8l17 1.57l19.25 1.38l21.5 1.19l24.25 1.04l27.5 .9l31.25 .78"/>
<path stroke="#EDB120" d="M38.50 715.81l33 -.6l28.75 -.71l25 -.84l22 -.99l19.25 -1.15l17.25 -1.36l15.25 -1.58l13.75 -1.84l6.25 -1.01l6 -1.1l5.75 -1.2l5.25 -1.24l5.25 -1.4l4.75 -1.42l4.5 -1.51l4.5 -1.7l4 -1.69l4 -1.88l3.75 -1.97l3.75 -2.2l3.5 -2.29l3.25 -2.36l3.25 -2.62l3 -2.68l2.75 -2.71l2.75 -2.98l2.5 -2.97l2.5 -3.25l2.5 -3.57l2.25 -3.51l2.25 -3.82l2 -3.69l2 -3.99l2 -4.32l2 -4.67l2 -5.07l3.5 -9.91l3.5 -11.41l3.25 -12.11l3.25 -13.73l2.75 -12.97l4.25 -21.71l2.5 -13.81l2.75 -16.2l10.25 -64.11l2 -11.42l2 -10.28l1.25 -5.68l1 -4.06l1.25 -4.4l1 -2.93l1.25 -2.86l1 -1.62l1 -1.01l.5 -.27l.5 -.11l.5 .05l.5 .21l1 .88l1 1.5l1.25 2.72l1 2.81l1.25 4.27l1 3.96l1.25 5.57l2 10.14l2.25 12.79l10 62.44l2.75 16.19l2.5 13.81l3 15.29l3 13.85l3 12.44l3 11.12l3.5 11.44l3.5 9.97l1.75 4.49l2 4.77l1.75 3.88l2 4.12l2 3.82l2 3.54l2.25 3.68l2.25 3.39l2.25 3.13l2.5 3.2l2.5 2.94l2.75 2.96l3 2.94l3 2.68l3.25 2.64l3.25 2.4l3.5 2.34l3.75 2.27l3.75 2.05l4 1.98l4.25 1.9l4.25 1.71l4.5 1.63l4.75 1.55l5 1.47l5.25 1.39l5.5 1.3l5.75 1.22l6 1.14l6.5 1.1l13.75 1.97l15.25 1.73l17 1.53l19 1.34l21.25 1.17l24 1.03l26.75 .89"/>
</g>
<text x="343.95" y="751.60" text-anchor="middle" textLength="104.6" lengthAdjust="spacingAndGlyphs" class="al">Wavelength (<tspan class="mu">μ</tspan>m)</text>
<text transform="translate(13.10,562.40) rotate(-90)" text-anchor="middle" class="al">Transmittance</text>
<text x="48.20" y="440.80" class="an">3(b) d4 = 7dd</text>
<path d="M407.8 418.60H427.1" stroke="#0072BD" stroke-width="2.2"/>
<text x="428.4" y="423.00" class="lg">CSF</text>
<path d="M407.8 432.00H427.1" stroke="#D95319" stroke-width="2.2"/>
<text x="428.4" y="436.40" class="lg">Wall of solid brain</text>
<path d="M407.8 445.40H427.1" stroke="#EDB120" stroke-width="2.2"/>
<text x="428.4" y="449.80" class="lg">Multi sclerosis</text>
<path d="M407.8 458.80H427.1" stroke="#7E2F8E" stroke-width="2.2"/>
<text x="428.4" y="463.20" class="lg">Oligodendroglioma</text>
<path d="M407.8 472.20H427.1" stroke="#77AC30" stroke-width="2.2"/>
<text x="428.4" y="476.60" class="lg">Gray matter</text>
<path d="M531.2 418.60H550.5" stroke="#4DBEEE" stroke-width="2.2"/>
<text x="551.8" y="423.00" class="lg">White matter</text>
<path d="M531.2 432.00H550.5" stroke="#A2142F" stroke-width="2.2"/>
<text x="551.8" y="436.40" class="lg">Low grade glioma</text>
<path d="M531.2 445.40H550.5" stroke="#0072BD" stroke-width="2.2"/>
<text x="551.8" y="449.80" class="lg">Medulloblastoma</text>
<path d="M531.2 458.80H550.5" stroke="#D95319" stroke-width="2.2"/>
<text x="551.8" y="463.20" class="lg">Glioblastoma</text>
<path d="M531.2 472.20H550.5" stroke="#EDB120" stroke-width="2.2"/>
<text x="551.8" y="476.60" class="lg">Lymphoma</text>
<text x="337.20" y="779.50" class="sl">(b)</text>
<rect x="43.6" y="800.8" width="606.4" height="312.7" fill="none" stroke="#262626" stroke-width="2.5"/>
<text x="43.60" y="1129.80" text-anchor="middle" class="tk">3.45</text>
<text x="119.40" y="1129.80" text-anchor="middle" class="tk">3.5</text>
<text x="195.20" y="1129.80" text-anchor="middle" class="tk">3.55</text>
<text x="271.00" y="1129.80" text-anchor="middle" class="tk">3.6</text>
<text x="346.80" y="1129.80" text-anchor="middle" class="tk">3.65</text>
<text x="422.60" y="1129.80" text-anchor="middle" class="tk">3.7</text>
<text x="498.40" y="1129.80" text-anchor="middle" class="tk">3.75</text>
<text x="574.20" y="1129.80" text-anchor="middle" class="tk">3.8</text>
<text x="650.00" y="1129.80" text-anchor="middle" class="tk">3.85</text>
<text x="39.00" y="1118.20" text-anchor="end" class="tk">0</text>
<text x="39.00" y="1086.93" text-anchor="end" class="tk">0.1</text>
<text x="39.00" y="1055.66" text-anchor="end" class="tk">0.2</text>
<text x="39.00" y="1024.39" text-anchor="end" class="tk">0.3</text>
<text x="39.00" y="993.12" text-anchor="end" class="tk">0.4</text>
<text x="39.00" y="961.85" text-anchor="end" class="tk">0.5</text>
<text x="39.00" y="930.58" text-anchor="end" class="tk">0.6</text>
<text x="39.00" y="899.31" text-anchor="end" class="tk">0.7</text>
<text x="39.00" y="868.04" text-anchor="end" class="tk">0.8</text>
<text x="39.00" y="836.77" text-anchor="end" class="tk">0.9</text>
<text x="39.00" y="805.50" text-anchor="end" class="tk">1</text>
<path d="M43.60 1113.50V1106.60M43.60 800.80V807.70M119.40 1113.50V1106.60M119.40 800.80V807.70M195.20 1113.50V1106.60M195.20 800.80V807.70M271.00 1113.50V1106.60M271.00 800.80V807.70M346.80 1113.50V1106.60M346.80 800.80V807.70M422.60 1113.50V1106.60M422.60 800.80V807.70M498.40 1113.50V1106.60M498.40 800.80V807.70M574.20 1113.50V1106.60M574.20 800.80V807.70M650.00 1113.50V1106.60M650.00 800.80V807.70M43.60 1113.50H50.50M650.00 1113.50H643.10M43.60 1082.23H50.50M650.00 1082.23H643.10M43.60 1050.96H50.50M650.00 1050.96H643.10M43.60 1019.69H50.50M650.00 1019.69H643.10M43.60 988.42H50.50M650.00 988.42H643.10M43.60 957.15H50.50M650.00 957.15H643.10M43.60 925.88H50.50M650.00 925.88H643.10M43.60 894.61H50.50M650.00 894.61H643.10M43.60 863.34H50.50M650.00 863.34H643.10M43.60 832.07H50.50M650.00 832.07H643.10M43.60 800.80H50.50M650.00 800.80H643.10" stroke="#262626" stroke-width="2.3" fill="none"/>
<g clip-path="url(#c2)" fill="none" stroke-width="2.45" stroke-linejoin="round">
<path stroke="#0072BD" d="M43.60 1107.53l8.5 -1.01l7.5 -1.14l6.75 -1.31l6 -1.47l5.5 -1.69l5 -1.93l4.5 -2.16l4.25 -2.53l3.75 -2.76l3.5 -3.16l3 -3.29l3 -3.98l2.75 -4.43l2.5 -4.85l2.25 -5.2l2.25 -6.19l1.75 -5.64l1.75 -6.52l1.5 -6.41l1.5 -7.29l1.5 -8.31l1.25 -7.81l1.5 -10.57l1.25 -9.92l1.25 -11.03l1.25 -12.22l3.25 -36.16l2.25 -28.61l4.25 -58.13l2 -23.92l1.25 -11.63l1 -6.74l.5 -2.39l.5 -1.69l.5 -.96l.25 -.2l.25 -.02l.25 .17l.25 .35l.5 1.25l.5 1.97l.5 2.66l1 7.23l1.25 12.11l1.75 21.1l4 54.65l2 25.86l2 23.22l2 20.26l1.75 15.35l2 15.07l2 12.76l2 10.8l1.25 5.89l1.5 6.32l1.5 5.61l1.75 5.76l1.75 5.05l1.75 4.44l1.75 3.92l2 3.94l2 3.45l2.25 3.4l2.5 3.27l2.5 2.83l2.75 2.69l2.75 2.32l3 2.19l3.25 2.04l4 2.12l4.5 1.99l4.75 1.73l5.25 1.58l5.75 1.42l6.25 1.26l6.75 1.11l7.5 1l8.25 .88l9 .77l9.75 .66l11 .58l12 .49l13.5 .42l31 .6l23.5 .23l25.5 .09l27 -.04l27.25 -.18l26 -.3l24.5 -.42l22.75 -.53l20.75 -.64l18 -.7l16.75 -.82l15.25 -.92l14 -1.03l13 -1.16l12 -1.29l11 -1.42l10.25 -1.58"/>
<path stroke="#D95319" d="M43.60 1108.71l10 -.87l9 -1.02l8 -1.17l7.25 -1.37l6.5 -1.57l5.75 -1.76l5.25 -2.03l4.75 -2.3l4.25 -2.57l2 -1.42l2 -1.58l1.75 -1.54l1.75 -1.7l1.75 -1.89l1.5 -1.79l3 -4.14l2.75 -4.6l2.5 -5.02l2.5 -6.04l2 -5.74l2 -6.73l1.75 -6.86l1.75 -7.94l1.5 -7.81l1.5 -8.88l1.5 -10.1l1.5 -11.48l1.5 -13l1.25 -12.09l3.25 -35.66l2.25 -28.14l4.5 -60.64l2 -23.46l1.25 -11.41l1 -6.65l.5 -2.38l.5 -1.7l.5 -1l.25 -.23l.25 -.05l.25 .13l.25 .3l.5 1.14l.5 1.84l.5 2.51l1 6.88l1.25 11.65l2 23.68l4 53.97l2 25.55l2 23.01l2 20.15l1.75 15.33l2 15.11l2 12.84l2 10.89l1.25 5.96l1.5 6.41l1.5 5.69l1.75 5.86l1.75 5.14l1.75 4.53l1.75 4.01l2 4.04l2 3.54l2.25 3.49l2.25 3.04l2.5 2.95l2.75 2.81l2.75 2.43l3 2.29l3 1.98l3.75 2.12l4 1.91l4.25 1.71l4.5 1.53l5 1.42l5.25 1.25l5.75 1.14l6.25 1.03l6.75 .92l7.5 .84l8 .74l9 .68l9.75 .59l10.5 .51l24.5 .84l19.5 .43l21.75 .32l24.25 .21l26 .1l55 -.16l26.25 -.26l24.5 -.37l20.25 -.42l18.5 -.5l17 -.59l15.75 -.69l14.25 -.78l13 -.88l12 -.99l11 -1.11"/>
<path stroke="#EDB120" d="M43.60 1108.93l10.5 -.86l9.25 -.99l8.25 -1.14l7.5 -1.35l6.5 -1.49l6 -1.76l5.5 -2.05l4.75 -2.23l4.25 -2.48l2 -1.37l2 -1.52l2 -1.7l1.75 -1.66l3.25 -3.59l1.75 -2.25l1.5 -2.15l2.75 -4.55l2.5 -4.97l2.5 -5.98l2 -5.68l2 -6.66l1.75 -6.79l1.75 -7.87l1.75 -9.13l1.5 -9.01l1.5 -10.25l1.25 -9.61l1.5 -12.94l1.25 -12.05l3.25 -35.71l2.25 -28.2l4.5 -61.1l2 -23.83l1.25 -11.67l1 -6.85l.5 -2.47l.5 -1.79l.5 -1.09l.25 -.27l.25 -.09l.25 .09l.25 .27l.5 1.06l.5 1.75l.5 2.42l1 6.72l1.25 11.45l2 23.43l4.25 57.09l2 25.32l2 22.76l2 19.91l1.75 15.15l2 14.93l2 12.7l2 10.79l1.25 5.91l1.5 6.35l1.5 5.65l1.75 5.82l1.75 5.11l1.75 4.5l1.75 3.99l2 4.02l2 3.53l2.25 3.48l2.25 3.04l2.5 2.94l2.75 2.8l2.75 2.42l3 2.29l3 1.98l3.5 1.99l4 1.93l4.25 1.73l4.5 1.55l5 1.44l5.25 1.27l5.75 1.16l6.25 1.05l6.75 .94l7.5 .86l8 .75l8.75 .67l9.5 .59l10.5 .52l24 .85l19 .44l21.5 .33l23.75 .22l25.75 .11l54.5 -.13l26.25 -.24l24.5 -.34l20.25 -.4l18.75 -.48l17 -.56l15.75 -.66l14.25 -.75l13.25 -.86l12 -.96l11.25 -1.09"/>
<path stroke="#7E2F8E" d="M43.60 1109.90l13 -.75l11.25 -.87l10 -1.02l8.75 -1.17l7.75 -1.34l7 -1.56l6.25 -1.79l3 -1.03l2.75 -1.07l2.5 -1.09l2.5 -1.23l2.5 -1.38l2.25 -1.4l2.25 -1.57l2 -1.56l2 -1.74l1.75 -1.7l1.75 -1.88l1.75 -2.09l1.75 -2.33l1.5 -2.22l2.75 -4.68l1.5 -2.95l1.25 -2.71l2.25 -5.56l2.25 -6.59l2 -6.91l1.75 -7.03l1.75 -8.12l1.75 -9.39l1.75 -10.87l1.5 -10.67l1.5 -12.07l1.5 -13.6l3.5 -36.96l2.5 -30.34l4.75 -62.61l2 -22.91l1.25 -11.21l1 -6.61l.5 -2.4l.5 -1.76l.5 -1.09l.25 -.29l.25 -.12l.25 .05l.25 .22l.5 .96l.5 1.63l.75 3.64l1 6.94l1.25 11.55l2 23.24l4.25 56.11l2 24.89l2 22.43l2 19.69l1.75 15.03l2 14.87l2 12.68l2 10.81l1.25 5.93l1.5 6.39l1.5 5.69l1.5 5.08l1.75 5.26l1.75 4.64l1.75 4.11l2 4.15l2 3.64l2.25 3.59l2.25 3.14l2.5 3.05l2.5 2.65l2.75 2.54l3 2.4l3 2.08l3.5 2.09l3.5 1.79l3.75 1.65l4.25 1.6l4.5 1.44l4.75 1.29l5.25 1.2l5.75 1.11l6 .97l6.75 .91l7 .79l7.75 .72l17.5 1.23l21 .98l15.75 .52l17.75 .43l41.75 .6l50.25 .24l52 -.15l43.25 -.47l36.5 -.77l15.75 -.5l14.5 -.59l13 -.67l12 -.77"/>
<path stroke="#77AC30" d="M43.60 1111.66l23.5 -.48l20 -.58l17.5 -.71l15 -.83l13.25 -1l11.5 -1.17l10.25 -1.39l9 -1.62l4 -.88l4 -1l3.75 -1.08l3.5 -1.15l3.25 -1.21l3.25 -1.38l3 -1.45l2.75 -1.5l2.75 -1.69l2.5 -1.74l2.5 -1.96l2.25 -1.99l2.25 -2.23l2 -2.22l2 -2.48l1.75 -2.41l1.75 -2.67l1.75 -2.96l1.5 -2.8l1.5 -3.08l2.75 -6.48l2.75 -7.78l2.5 -8.47l2.5 -10.1l2.25 -10.77l2 -11.16l2 -12.87l2 -14.78l1.75 -14.64l2.5 -22.87l3 -30.61l6 -67.2l1.25 -12.63l1 -9.04l1.25 -9.55l1.25 -7.15l.75 -2.97l.5 -1.39l.5 -.9l.25 -.26l.25 -.14l.25 -.01l.5 .35l.5 .85l.5 1.34l.75 2.9l1 5.43l1.25 9.01l1 8.7l1.25 12.3l6.75 75.06l2 20.41l1.75 16.29l2.25 18.68l2.25 16.21l2.25 13.95l2.5 13.19l1.5 6.89l1.5 6.22l1.5 5.62l1.5 5.08l1.5 4.61l1.75 4.84l1.75 4.34l2 4.43l2 3.93l2 3.51l2.25 3.51l2.25 3.11l2.5 3.06l2.5 2.7l2.75 2.62l3 2.51l3 2.2l3 1.93l3.5 1.98l3.5 1.73l3.75 1.62l4 1.5l4.25 1.39l4.5 1.28l4.75 1.17l5.25 1.12l5.5 1.01l6 .95l6.25 .85l6.75 .78l15.25 1.4l17.25 1.14l20 .96l23.25 .79l27.25 .66l32 .54l38 .45l45.25 .37l54 .3"/>
<path stroke="#4DBEEE" d="M43.60 1112.01l28.25 -.41l24.25 -.51l20.75 -.62l18 -.75l15.75 -.91l13.5 -1.06l11.75 -1.25l10.5 -1.49l9.25 -1.75l4.25 -.99l4 -1.07l3.75 -1.14l3.75 -1.31l3.25 -1.29l3.25 -1.47l3 -1.54l3 -1.75l2.75 -1.82l2.5 -1.87l2.5 -2.11l2.25 -2.13l2.25 -2.39l2 -2.38l2 -2.65l1.75 -2.57l1.75 -2.84l1.75 -3.15l1.75 -3.5l1.5 -3.32l1.5 -3.65l1.5 -4.02l2.75 -8.47l2.5 -9.18l2.5 -10.89l2.25 -11.54l2.25 -13.45l2 -13.78l2 -15.65l2.5 -21.57l1.75 -16.25l1.75 -17.49l6 -63.85l1.25 -12.15l1.25 -10.87l1.5 -10.72l1.25 -6.51l.75 -2.7l.5 -1.26l.5 -.82l.25 -.24l.5 -.14l.5 .32l.5 .77l.5 1.22l.75 2.63l1.25 6.42l1.25 8.65l1.25 10.49l1.5 14.38l5.25 55.93l2 20.41l1.75 16.61l1.5 13.16l2.25 17.81l2.25 15.57l2.25 13.5l2.5 12.85l1.5 6.76l1.5 6.12l1.5 5.56l1.5 5.05l1.5 4.59l1.75 4.84l1.75 4.35l1.75 3.93l2 4.03l2 3.6l2 3.23l2.25 3.25l2.25 2.9l2.5 2.87l2.75 2.79l2.75 2.46l3 2.37l3 2.09l3.25 1.99l3.25 1.76l3.75 1.78l3.75 1.56l4 1.45l4.25 1.35l4.5 1.25l5 1.2l5.25 1.09l5.5 .99l6 .93l6.25 .84l14 1.5l15.75 1.24l18.25 1.05l21.25 .89l24.5 .74l28.75 .62l33.75 .51l39.75 .42l47 .35"/>
<path stroke="#A2142F" d="M43.60 1112.24l34.5 -.37l29.25 -.46l25 -.56l21.25 -.67l18.5 -.82l16 -.98l13.75 -1.15l12.25 -1.38l5.75 -.81l5.25 -.86l5 -.95l4.5 -.98l4.5 -1.12l4 -1.15l3.75 -1.23l3.75 -1.4l3.5 -1.49l3.25 -1.58l3 -1.65l3 -1.87l2.75 -1.94l2.75 -2.19l2.5 -2.25l2.25 -2.26l2.25 -2.53l2 -2.5l2 -2.78l2 -3.1l2 -3.46l1.75 -3.36l1.75 -3.72l1.5 -3.51l1.5 -3.84l1.5 -4.21l1.5 -4.62l1.5 -5.08l2.75 -10.66l2.5 -11.46l2.5 -13.45l2.25 -14.04l2.25 -16.06l2.75 -21.87l1.75 -14.91l2 -18.37l6.75 -66.38l1.25 -11.17l1.25 -10.04l1.5 -10.06l1.25 -6.33l.75 -2.77l.75 -1.94l.75 -1.08l.5 -.24l.5 .16l.75 .97l.5 1.13l.75 2.39l1.25 5.74l1.5 9.47l1.25 9.65l1.5 13.17l7 68.62l2 18.22l2 16.77l2.25 16.99l2.25 15.03l2.5 14.54l2.5 12.5l2.75 11.72l1.5 5.61l1.5 5.12l1.5 4.68l1.75 4.97l1.75 4.49l1.75 4.07l1.75 3.69l2 3.81l2 3.43l2.25 3.47l2.25 3.1l2.25 2.79l2.5 2.77l2.5 2.48l2.75 2.44l2.75 2.17l3 2.11l3.25 2.03l3.5 1.92l3.5 1.7l3.75 1.61l4 1.51l4.25 1.41l4.5 1.3l4.75 1.2l5 1.11l5.25 1.02l5.75 .97l6 .88l6.5 .83l14 1.44l16.25 1.24l18.25 1.03l21.25 .89l24.5 .74l28.25 .62l33.25 .52l38.75 .43"/>
<path stroke="#0072BD" d="M43.60 1112.37l37.75 -.34l31.75 -.42l27 -.52l23 -.64l19.75 -.77l17.25 -.93l15 -1.12l13 -1.32l11.5 -1.57l5.25 -.89l5 -.99l4.75 -1.08l4.25 -1.11l4 -1.2l4 -1.37l3.75 -1.48l3.5 -1.57l3.25 -1.67l3 -1.74l3 -1.97l2.75 -2.05l2.5 -2.1l2.5 -2.35l2.25 -2.37l2.25 -2.65l2.25 -2.98l2 -2.96l2 -3.29l1.75 -3.2l1.75 -3.53l1.75 -3.91l1.75 -4.33l1.5 -4.09l1.5 -4.48l1.5 -4.92l2.75 -10.31l2.75 -12.26l2.5 -13.15l2.5 -15.34l2.25 -15.87l2.75 -21.53l1.75 -14.67l2 -18.06l7 -67.59l1.25 -10.89l1.25 -9.78l1.5 -9.77l1.25 -6.14l.75 -2.69l.75 -1.88l.75 -1.05l.5 -.23l.5 .15l.75 .94l.75 1.77l.75 2.58l1.25 5.98l1.5 9.61l1.25 9.66l1.25 10.81l7.25 69.78l2 17.91l2 16.5l2.25 16.75l2.25 14.84l2.25 13.05l2.5 12.6l2.75 11.84l1.5 5.68l1.5 5.19l1.5 4.75l1.75 5.04l1.5 3.94l1.75 4.19l1.75 3.81l2 3.93l2 3.54l2 3.2l2 2.9l2.25 2.94l2.25 2.65l2.5 2.65l2.75 2.6l2.75 2.31l3 2.24l3 1.99l3.25 1.92l3.25 1.71l3.75 1.74l3.75 1.54l4 1.45l4.25 1.35l4.5 1.26l4.75 1.17l5 1.08l5.5 1.03l5.75 .94l6 .86l13.25 1.53l15 1.31l17 1.11l19.75 .95l22.5 .8l26.25 .68l30.25 .57l35.5 .48"/>
<path stroke="#D95319" d="M43.60 1112.47l40.25 -.32l33.75 -.4l28.5 -.49l24.25 -.6l21 -.74l18 -.89l15.5 -1.06l13.5 -1.27l12 -1.53l5.5 -.88l5 -.92l4.75 -1.01l4.5 -1.1l4.25 -1.2l4 -1.29l3.75 -1.39l3.75 -1.59l3.25 -1.58l3.25 -1.8l3 -1.89l2.75 -1.96l2.75 -2.21l2.5 -2.27l2.25 -2.29l2.25 -2.56l2.25 -2.86l2 -2.84l2 -3.17l2 -3.54l1.75 -3.44l1.75 -3.81l1.75 -4.22l1.5 -3.99l1.75 -5.14l1.5 -4.87l2.75 -10.22l2.75 -12.17l2.5 -13.07l2.5 -15.27l2.25 -15.83l2.75 -21.61l1.75 -14.7l2 -18.12l7 -68.11l1.25 -11.02l1.25 -9.9l1.5 -9.91l1.25 -6.23l.75 -2.73l.75 -1.91l.75 -1.07l.5 -.23l.5 .15l.75 .95l.75 1.8l.75 2.62l1.25 6.06l1.5 9.74l1.25 9.79l1.25 10.94l7 67.98l2 18.13l2 16.71l2.25 16.96l2.25 15.02l2.25 13.2l2.25 11.54l2.75 12.12l2.75 10.26l1.5 4.92l1.75 5.22l1.5 4.07l1.75 4.33l1.75 3.93l1.75 3.57l2 3.69l2 3.33l2 3.01l2.25 3.05l2.25 2.75l2.25 2.48l2.5 2.48l2.75 2.43l2.75 2.17l3 2.11l3.25 2.03l3.25 1.8l3.5 1.71l3.5 1.52l4 1.53l4 1.35l4.25 1.27l4.75 1.24l4.75 1.09l5.25 1.05l5.5 .96l5.75 .88l12.75 1.59l14.25 1.34l16.5 1.16l18.75 .98l21.5 .83l24.75 .7l28.75 .59l33.25 .49"/>
<path stroke="#EDB120" d="M43.60 1112.51l44 -.31l36.75 -.39l31 -.48l26.5 -.59l22.75 -.72l19.5 -.87l16.75 -1.04l14.75 -1.25l13 -1.5l6 -.87l5.5 -.92l5.25 -1.02l4.75 -1.06l4.75 -1.23l4.25 -1.26l4 -1.36l3.75 -1.45l3.5 -1.54l3.5 -1.76l3.25 -1.86l3 -1.94l3 -2.2l2.75 -2.28l2.5 -2.33l2.5 -2.62l2.5 -2.95l2.25 -2.98l2.25 -3.34l2 -3.31l2 -3.68l1.75 -3.57l1.75 -3.93l1.75 -4.34l1.75 -4.8l1.5 -4.52l1.5 -4.94l1.5 -5.4l1.5 -5.9l1.5 -6.45l2.75 -13.44l2.5 -14.25l2.5 -16.39l3 -22.08l2 -15.8l2 -17.03l7.5 -68.39l1.5 -12.27l1.25 -9.1l1.5 -9.13l.75 -3.7l.75 -3.05l.75 -2.36l.75 -1.64l.75 -.89l.5 -.17l.5 .17l.75 .89l.75 1.64l.75 2.36l.75 3.05l.75 3.7l1.5 9.13l1.25 9.09l1.5 12.26l7.25 66.08l2 17.13l2 15.9l2.25 16.28l2.25 14.56l2.25 12.92l2.5 12.58l2.75 11.92l2.75 10.19l1.5 4.93l1.5 4.53l1.5 4.17l1.75 4.45l1.75 4.05l1.75 3.7l1.75 3.38l2 3.52l2 3.19l2 2.9l2 2.64l2.25 2.7l2.5 2.71l2.5 2.43l2.75 2.4l2.75 2.16l3 2.11l3 1.88l3.25 1.83l3.5 1.75l3.5 1.56l3.75 1.49l4 1.41l4.25 1.32l4.5 1.24l4.75 1.15l5 1.07l5.25 .99l11.5 1.78l12.75 1.52l14.5 1.32l16.5 1.14l18.75 .97l21.5 .83l24.5 .71l28.25 .6"/>
</g>
<text x="346.80" y="1146.80" text-anchor="middle" textLength="104.6" lengthAdjust="spacingAndGlyphs" class="al">Wavelength (<tspan class="mu">μ</tspan>m)</text>
<text transform="translate(18.20,958.15) rotate(-90)" text-anchor="middle" class="al">Transmittance</text>
<text x="58.20" y="836.50" class="an">3(c) d4 = 11dd</text>
<path d="M410.8 814.10H430.1" stroke="#0072BD" stroke-width="2.2"/>
<text x="431.4" y="818.50" class="lg">CSF</text>
<path d="M410.8 827.60H430.1" stroke="#D95319" stroke-width="2.2"/>
<text x="431.4" y="832.00" class="lg">Wall of solid brain</text>
<path d="M410.8 841.10H430.1" stroke="#EDB120" stroke-width="2.2"/>
<text x="431.4" y="845.50" class="lg">Multi sclerosis</text>
<path d="M410.8 854.60H430.1" stroke="#7E2F8E" stroke-width="2.2"/>
<text x="431.4" y="859.00" class="lg">Oligodendroglioma</text>
<path d="M410.8 868.10H430.1" stroke="#77AC30" stroke-width="2.2"/>
<text x="431.4" y="872.50" class="lg">Gray matter</text>
<path d="M532.6 814.10H551.9" stroke="#4DBEEE" stroke-width="2.2"/>
<text x="553.2" y="818.50" class="lg">White matter</text>
<path d="M532.6 827.60H551.9" stroke="#A2142F" stroke-width="2.2"/>
<text x="553.2" y="832.00" class="lg">Low grade glioma</text>
<path d="M532.6 841.10H551.9" stroke="#0072BD" stroke-width="2.2"/>
<text x="553.2" y="845.50" class="lg">Medulloblastoma</text>
<path d="M532.6 854.60H551.9" stroke="#D95319" stroke-width="2.2"/>
<text x="553.2" y="859.00" class="lg">Glioblastoma</text>
<path d="M532.6 868.10H551.9" stroke="#EDB120" stroke-width="2.2"/>
<text x="553.2" y="872.50" class="lg">Lymphoma</text>
<text x="340.70" y="1173.50" class="sl">(c)</text>
</svg>
</body></html>
